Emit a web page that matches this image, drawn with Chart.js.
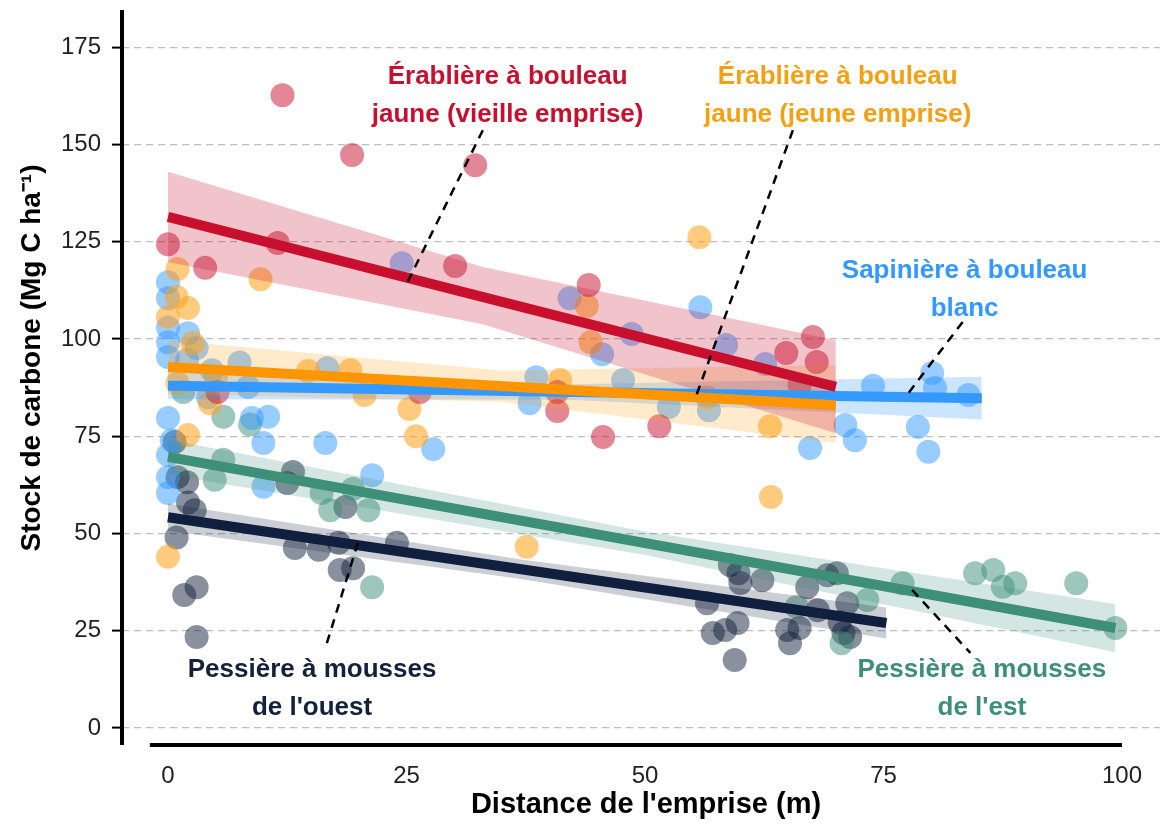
<!DOCTYPE html>
<html lang="fr">
<head>
<meta charset="utf-8">
<title>Stock de carbone selon la distance de l'emprise</title>
<script src="https://cdn.jsdelivr.net/npm/chart.js@4.4.1/dist/chart.umd.min.js"></script>
<style>
    html, body { margin: 0; padding: 0; background: #fff; }
    #wrap { width: 1166px; height: 825px; }
</style>
</head>
<body>
<div id="wrap"><canvas id="chart" width="1166" height="825"></canvas></div>
<script>
// axes
const xTicks = [0, 25, 50, 75, 100];
const yTicks = [0, 25, 50, 75, 100, 125, 150, 175];

// Érablière à bouleau jaune (vieille emprise)
const redX = [0, 3.9, 11.5, 12, 19.3, 32.2, 30.1, 44.1, 40.8, 40.8, 45.6, 51.5, 67.6, 64.8, 68, 66.2, 26.4, 5.2];
const redY = [124.4, 118.3, 124.7, 162.7, 147.3, 144.7, 118.8, 113.9, 86.4, 81.5, 74.8, 77.6, 100.5, 96.4, 94.1, 88.2, 86.4, 86.4];
const redFitX = [0, 70];
const redFitY = [131.4, 87.7];
const redBandX = [0, 33, 70];
const redBandLo = [119.8, 103.8, 75.8];
const redBandHi = [143, 118.5, 99.7];

// Érablière à bouleau jaune (jeune emprise)
const orangeX = [1, 9.7, 0.9, 2.1, 0, 2.6, 1, 4.4, 2.1, 0, 14.7, 19.1, 20.6, 25.3, 26, 55.7, 43.9, 44.3, 41.1, 63.1, 56.5, 63.2, 37.6, 5];
const orangeY = [118, 115.4, 110.8, 108, 105.7, 99, 88.7, 83.5, 75.3, 44, 91.8, 92, 85.6, 82, 75, 126.2, 108.5, 99.2, 89.5, 77.6, 85, 59.4, 46.6, 90];
const orangeFitX = [0, 70];
const orangeFitY = [92.8, 83];
const orangeBandX = [0, 35, 70];
const orangeBandLo = [85.9, 83.9, 73.3];
const orangeBandHi = [99.7, 91.9, 93.3];

// Sapinière à bouleau blanc
const blueX = [0, 0, 0, 2.1, 0, 0, 3, 2, 4.6, 7.5, 8.4, 4.2, 0, 8.8, 10.5, 10, 16.5, 27.8, 0, 0, 0, 10, 21.4, 16.7, 0.4, 24.5,
    42.1, 48.6, 45.5, 38.6, 37.9, 47.7, 55.8, 58.5, 62.6, 52.5, 56.7, 71, 67.3, 72, 73.9, 80.1, 80.4, 83.9, 78.6, 79.7];
const blueY = [114.6, 110.5, 103, 101.5, 99.2, 95.4, 97.7, 94.6, 92, 94, 87.7, 85, 79.7, 79.7, 80, 73.3, 73.3, 71.7, 70.2, 64.5, 60.4, 62, 65, 92.5, 74, 119.5,
    110.5, 101.3, 96.1, 90.2, 83.5, 89.5, 108.2, 98.5, 93.6, 82.5, 81.7, 77.9, 72, 74, 88, 91.3, 87.4, 85.6, 77.4, 71];
const blueFitX = [0, 85.3];
const blueFitY = [88, 84.8];
const blueBandX = [0, 42, 85.3];
const blueBandLo = [84.5, 84.4, 79.3];
const blueBandHi = [91.5, 88.4, 90.3];

// Pessière à mousses de l'est
const greenX = [5.8, 8.6, 1.6, 5.8, 4.9, 16.1, 17, 21, 19.4, 21.4, 77, 84.6, 86.5, 87.5, 88.8, 95.2, 99.3, 73.3, 70.6, 65.9];
const greenY = [80, 78, 86.4, 69, 63.8, 60.4, 56, 56, 61.5, 36.2, 37.2, 39.8, 40.6, 36.3, 37.2, 37.2, 25.7, 32.9, 21.8, 31.1];
const greenFitX = [0, 99.3];
const greenFitY = [69.7, 25.7];
const greenBandX = [0, 50, 99.3];
const greenBandLo = [65.2, 44.5, 19.5];
const greenBandHi = [74.2, 50.5, 31.9];

// Pessière à mousses de l'ouest
const navyX = [0.7, 1, 2, 2.1, 2.8, 0.9, 1.7, 3, 3, 13.1, 12.5, 18.6, 13.3, 15.8, 17.9, 24, 18, 19.4,
    58.9, 59.8, 60, 62.3, 67, 69.1, 70.1, 56.5, 57.1, 58.4, 59.7, 59.4, 64.9, 65.2, 66.2, 68.1, 71.2, 70.4, 70.8, 71.5];
const navyY = [73.5, 64.5, 63.2, 58, 56, 49, 34.2, 36.2, 23.4, 65.8, 63, 56.8, 46.3, 45.8, 47.6, 47.6, 40.6, 41.1,
    41.9, 39.8, 37.3, 38, 36.2, 39.3, 39.8, 32.1, 24.4, 25.2, 27, 17.5, 25.2, 21.8, 25.7, 30.3, 32.1, 27.2, 24.4, 23.4];
const navyFitX = [0, 75.3];
const navyFitY = [54.2, 27];
const navyBandX = [0, 37, 75.3];
const navyBandLo = [50.7, 38.3, 23];
const navyBandHi = [57.7, 43.3, 31];

// étiquettes et traits de rappel (coordonnées des données)
const redLabel = ['Érablière à bouleau', 'jaune (vieille emprise)'];
const orangeLabel = ['Érablière à bouleau', 'jaune (jeune emprise)'];
const blueLabel = ['Sapinière à bouleau', 'blanc'];
const navyLabel = ['Pessière à mousses', "de l'ouest"];
const greenLabel = ['Pessière à mousses', "de l'est"];

const redLeaderX = [33, 25.1];
const redLeaderY = [153.7, 114.6];
const orangeLeaderX = [65.5, 55.2];
const orangeLeaderY = [153.7, 84.3];
const blueLeaderX = [83.3, 77.3];
const blueLeaderY = [104.4, 85.1];
const navyLeaderX = [19.9, 16.5];
const navyLeaderY = [47.6, 20.6];
const greenLeaderX = [78, 84.1];
const greenLeaderY = [35.5, 19.3];

const FONT = '"Liberation Sans", Arial, Helvetica, sans-serif';

const toPoints = (xs, ys) => xs.map((x, i) => ({ x: x, y: ys[i] }));

const groups = [
    { rgb: '200,16,46', line: '#C8102E', text: '#C8102E', ptAlpha: 0.5, bandAlpha: 0.25,
      x: redX, y: redY, fitX: redFitX, fitY: redFitY, bandX: redBandX, lo: redBandLo, hi: redBandHi,
      label: redLabel, labelAt: [35.6, 162.5], leaderX: redLeaderX, leaderY: redLeaderY },
    { rgb: '255,160,20', line: '#FF9500', text: '#F5A013', ptAlpha: 0.55, bandAlpha: 0.22,
      x: orangeX, y: orangeY, fitX: orangeFitX, fitY: orangeFitY, bandX: orangeBandX, lo: orangeBandLo, hi: orangeBandHi,
      label: orangeLabel, labelAt: [70.2, 162.5], leaderX: orangeLeaderX, leaderY: orangeLeaderY },
    { rgb: '51,153,255', line: '#3399FF', text: '#3399FF', ptAlpha: 0.5, bandAlpha: 0.25,
      x: blueX, y: blueY, fitX: blueFitX, fitY: blueFitY, bandX: blueBandX, lo: blueBandLo, hi: blueBandHi,
      label: blueLabel, labelAt: [83.5, 112.6], leaderX: blueLeaderX, leaderY: blueLeaderY },
    { rgb: '61,143,120', line: '#3D8F78', text: '#3D8F78', ptAlpha: 0.5, bandAlpha: 0.22,
      x: greenX, y: greenY, fitX: greenFitX, fitY: greenFitY, bandX: greenBandX, lo: greenBandLo, hi: greenBandHi,
      label: greenLabel, labelAt: [85.3, 10], leaderX: greenLeaderX, leaderY: greenLeaderY },
    { rgb: '20,33,61', line: '#0F1F3D', text: '#14213D', ptAlpha: 0.5, bandAlpha: 0.22,
      x: navyX, y: navyY, fitX: navyFitX, fitY: navyFitY, bandX: navyBandX, lo: navyBandLo, hi: navyBandHi,
      label: navyLabel, labelAt: [15.1, 10], leaderX: navyLeaderX, leaderY: navyLeaderY }
];

function buildDatasets() {
    const datasets = [];
    groups.forEach(g => {
        datasets.push({
            type: 'scatter',
            data: toPoints(g.x, g.y),
            backgroundColor: `rgba(${g.rgb},${g.ptAlpha})`,
            borderWidth: 0,
            pointRadius: 12,
            order: 5
        });
        datasets.push({
            type: 'line',
            data: toPoints(g.bandX, g.lo),
            borderWidth: 0,
            borderColor: 'rgba(0,0,0,0)',
            pointRadius: 0,
            fill: false,
            order: 4
        });
        datasets.push({
            type: 'line',
            data: toPoints(g.bandX, g.hi),
            borderWidth: 0,
            borderColor: 'rgba(0,0,0,0)',
            backgroundColor: `rgba(${g.rgb},${g.bandAlpha})`,
            pointRadius: 0,
            fill: '-1',
            order: 4
        });
        datasets.push({
            type: 'line',
            data: toPoints(g.fitX, g.fitY),
            borderColor: g.line,
            borderWidth: 10,
            borderCapStyle: 'butt',
            pointRadius: 0,
            fill: false,
            order: 2
        });
        datasets.push({
            type: 'line',
            data: toPoints(g.leaderX, g.leaderY),
            borderColor: '#000',
            borderWidth: 2.5,
            borderDash: [9, 7],
            pointRadius: 0,
            fill: false,
            order: 1
        });
    });
    return datasets;
}

// axes, graduations, titres et étiquettes
const decorPlugin = {
    id: 'decor',
    afterDatasetsDraw(chart) {
        const { ctx, chartArea, scales } = chart;
        const xs = scales.x, ys = scales.y;
        ctx.save();

        ctx.strokeStyle = '#000';
        ctx.lineWidth = 4;
        ctx.beginPath();
        ctx.moveTo(chartArea.left, chartArea.top);
        ctx.lineTo(chartArea.left, chartArea.bottom);
        ctx.stroke();
        ctx.beginPath();
        ctx.moveTo(xs.getPixelForValue(-1.9), chartArea.bottom);
        ctx.lineTo(xs.getPixelForValue(100), chartArea.bottom);
        ctx.stroke();

        ctx.fillStyle = '#222';
        ctx.font = `24px ${FONT}`;
        ctx.textBaseline = 'middle';
        ctx.textAlign = 'right';
        yTicks.forEach(v => ctx.fillText(String(v), 101, ys.getPixelForValue(v)));
        ctx.textAlign = 'center';
        xTicks.forEach(v => ctx.fillText(String(v), xs.getPixelForValue(v), 776));

        ctx.font = `bold 26px ${FONT}`;
        groups.forEach(g => {
            ctx.fillStyle = g.text;
            const px = xs.getPixelForValue(g.labelAt[0]);
            const py = ys.getPixelForValue(g.labelAt[1]);
            g.label.forEach((line, i) => {
                ctx.fillText(line, px, py + (i - 0.5) * 38);
            });
        });

        ctx.fillStyle = '#000';
        ctx.font = `bold 29px ${FONT}`;
        ctx.fillText("Distance de l'emprise (m)", 646, 805);

        ctx.font = `bold 28px ${FONT}`;
        ctx.translate(32, 358);
        ctx.rotate(-Math.PI / 2);
        ctx.fillText('Stock de carbone (Mg C ha⁻¹)', 0, 0);
        ctx.restore();
    }
};

document.addEventListener('DOMContentLoaded', () => {
    new Chart(document.getElementById('chart'), {
        type: 'scatter',
        data: { datasets: buildDatasets() },
        options: {
            responsive: false,
            animation: false,
            layout: { autoPadding: false, padding: { top: 10, right: 6, left: 0, bottom: 0 } },
            plugins: {
                legend: { display: false },
                tooltip: { enabled: false }
            },
            scales: {
                x: {
                    type: 'linear',
                    min: -4.82,
                    max: 103.98,
                    afterBuildTicks: s => { s.ticks = xTicks.map(v => ({ value: v })); },
                    afterFit: s => { s.height = 80; },
                    border: { display: false },
                    grid: { drawOnChartArea: false, drawTicks: false },
                    ticks: { display: false }
                },
                y: {
                    type: 'linear',
                    min: -4.37,
                    max: 184.6,
                    afterBuildTicks: s => { s.ticks = yTicks.map(v => ({ value: v })); },
                    afterFit: s => { s.width = 122; },
                    border: { display: false, dash: [7, 5] },
                    grid: {
                        color: '#bdbdbd',
                        lineWidth: 1.2,
                        tickColor: '#000',
                        tickWidth: 2,
                        tickLength: 10,
                        tickBorderDash: []
                    },
                    ticks: { display: false }
                }
            }
        },
        plugins: [decorPlugin]
    });
});
</script>
</body>
</html>
